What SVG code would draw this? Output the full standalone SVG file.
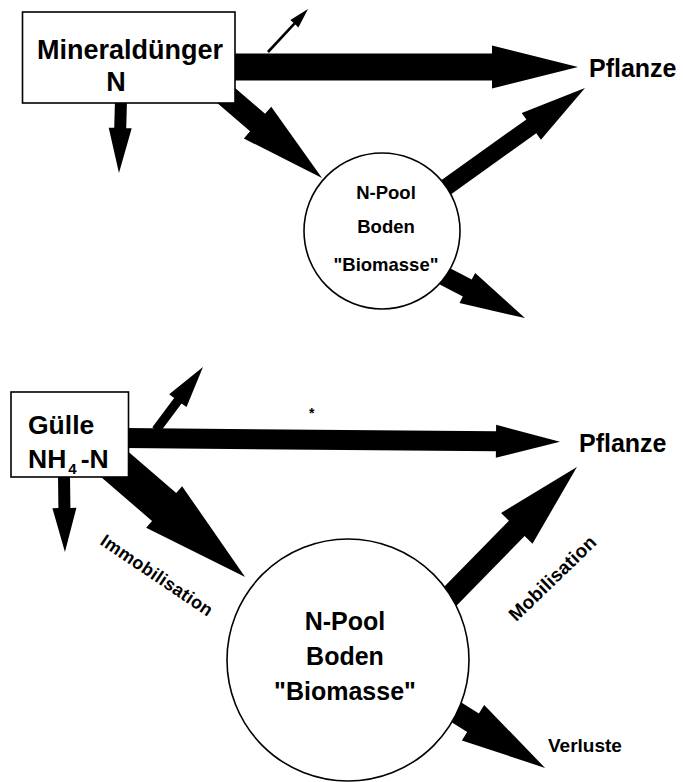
<svg xmlns="http://www.w3.org/2000/svg" width="683" height="782" viewBox="0 0 683 782">
<style>
.arr{fill:#000;stroke:none}
.box{fill:#fff;stroke:#000;stroke-width:1.6}
.t{font-family:"Liberation Sans",Arial,Helvetica,sans-serif;font-weight:bold;fill:#000}
</style>
<rect width="683" height="782" fill="#fff"/>
<g id="connectors">
  <polygon class="arr" points="0,-1.3 38.7,-1.3 38.7,-5.5 58.7,0 38.7,5.5 38.7,1.3 0,1.3" transform="translate(268 52) rotate(-47)"/>
  <polygon class="arr" points="0,-13.5 262,-13.5 262,-21.5 348,0 262,21.5 262,13.5 0,13.5" transform="translate(230 67)"/>
  <polygon class="arr" points="0,-6 28,-6 28,-11.5 73,0 28,11.5 28,6 0,6" transform="translate(121 100) rotate(91.6)"/>
  <polygon class="arr" points="0,-11.5 51.8,-11.5 51.8,-21 136.8,0 51.8,21 51.8,11.5 0,11.5" transform="translate(218.3 88.8) rotate(40.7)"/>
  <polygon class="arr" points="0,-8.5 136.9,-8.5 136.9,-16.5 202.9,0 136.9,16.5 136.9,8.5 0,8.5" transform="translate(420 206) rotate(-35.6)"/>
  <polygon class="arr" points="0,-9.6 47.7,-9.6 47.7,-17 112.7,0 47.7,17 47.7,9.6 0,9.6" transform="translate(425 266) rotate(27.5)"/>
  <polygon class="arr" points="0,-4.6 36.6,-4.6 36.6,-10.8 78.6,0 36.6,10.8 36.6,4.6 0,4.6" transform="translate(156 430) rotate(-53.3)"/>
  <polygon class="arr" points="0,-10 371,-10 371,-16.5 435,0 371,16.5 371,10 0,10" transform="translate(125 438) rotate(0.5)"/>
  <polygon class="arr" points="0,-6 33,-6 33,-12 77,0 33,12 33,6 0,6" transform="translate(64 475) rotate(89.3)"/>
  <polygon class="arr" points="0,-18.5 78.5,-18.5 78.5,-27.5 185.5,0 78.5,27.5 78.5,18.5 0,18.5" transform="translate(104.7 455.7) rotate(40.8)"/>
  <polygon class="arr" points="0,-11 124,-11 124,-22 210,0 124,22 124,11 0,11" transform="translate(430 617) rotate(-45.6)"/>
  <polygon class="arr" points="0,-11 39,-11 39,-21 124,0 39,21 39,11 0,11" transform="translate(440 702) rotate(32.1)"/>
  <text class="t" font-size="18" letter-spacing="0.3" text-anchor="middle" transform="translate(153.5 580.5) rotate(34)">Immobilisation</text>
  <text class="t" font-size="19" letter-spacing="0.2" text-anchor="middle" transform="translate(557 583) rotate(-44)">Mobilisation</text>
  <text class="t" font-size="14" x="309" y="418">*</text>
</g>
<g id="mineralduenger">
  <rect class="box" x="22.5" y="12" width="212.5" height="91"/>
  <text class="t" font-size="27" text-anchor="middle" x="130" y="59">Mineraldünger</text>
  <text class="t" font-size="27" text-anchor="middle" x="116" y="91">N</text>
</g>
<g id="pflanze1">
  <text class="t" font-size="25" x="589" y="77">Pflanze</text>
</g>
<g id="npool1">
  <circle class="box" cx="382" cy="231" r="78"/>
  <text class="t" font-size="18.5" text-anchor="middle" x="386" y="199">N-Pool</text>
  <text class="t" font-size="18.5" text-anchor="middle" x="386" y="233">Boden</text>
  <text class="t" font-size="18.5" text-anchor="middle" x="386" y="271">"Biomasse"</text>
</g>
<g id="guelle">
  <rect class="box" x="11" y="392" width="117.5" height="85"/>
  <text class="t" font-size="26.5" x="28" y="434">Gülle</text>
  <text class="t" font-size="26.5" x="28" y="468">NH<tspan font-size="15" dy="6" dx="2">4</tspan><tspan dy="-6" dx="4">-N</tspan></text>
</g>
<g id="pflanze2">
  <text class="t" font-size="25" x="579" y="452">Pflanze</text>
</g>
<g id="npool2">
  <circle class="box" cx="348" cy="660" r="121"/>
  <text class="t" font-size="25" text-anchor="middle" x="345" y="630">N-Pool</text>
  <text class="t" font-size="25" text-anchor="middle" x="345" y="665">Boden</text>
  <text class="t" font-size="25" text-anchor="middle" x="345" y="700">"Biomasse"</text>
</g>
<g id="verluste">
  <text class="t" font-size="19" x="548" y="752">Verluste</text>
</g>
</svg>
